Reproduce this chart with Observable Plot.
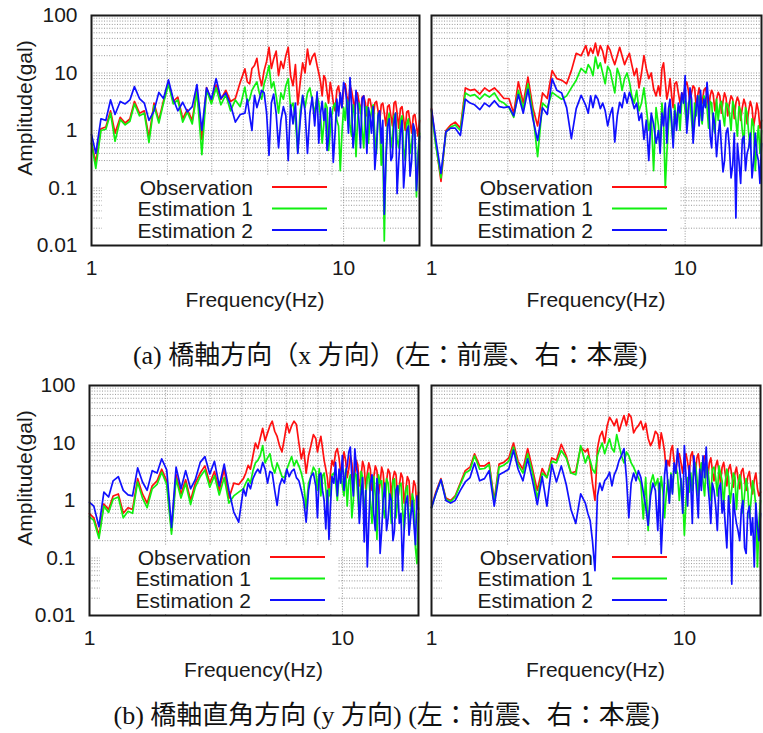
<!DOCTYPE html>
<html><head><meta charset="utf-8">
<script src="https://cdn.jsdelivr.net/npm/d3@7"></script>
<script src="https://cdn.jsdelivr.net/npm/@observablehq/plot@0.6"></script>
<style>
html,body{margin:0;padding:0;background:#fff}
body{width:763px;height:733px;position:relative;overflow:hidden;font-family:"Liberation Sans",Arial,sans-serif}
.panel{position:absolute}
.cap{position:absolute;text-align:center;font-family:"Liberation Serif","Noto Sans CJK JP",serif;font-size:26px;line-height:28px;height:28px;color:#111;white-space:nowrap}
</style></head><body>
<div id="tl" class="panel" style="left:0;top:0"></div>
<div id="tr" class="panel" style="left:425px;top:0"></div>
<div id="bl" class="panel" style="left:0;top:370px"></div>
<div id="br" class="panel" style="left:425px;top:370px"></div>
<div class="cap" style="left:0;width:780px;top:342px">(a) 橋軸方向（x 方向）(左：前震、右：本震)</div>
<div class="cap" style="left:0;width:773px;top:702px">(b) 橋軸直角方向 (y 方向) (左：前震、右：本震)</div>
<script>
// Frequency (Hz) samples shared by all panels
const freq = [1.00,1.04,1.09,1.14,1.19,1.24,1.30,1.36,1.42,1.48,
  1.55,1.62,1.69,1.77,1.85,1.93,2.02,2.11,2.20,2.30,
  2.40,2.51,2.62,2.74,2.86,2.99,3.12,3.26,3.41,3.56,
  3.72,3.89,
  4.06,4.15,4.24,4.33,4.43,4.53,4.63,4.73,4.84,4.95,5.06,5.17,5.28,5.40,5.52,5.64,
  5.77,5.90,6.03,6.16,6.30,6.44,6.58,6.73,6.88,7.03,7.19,7.35,7.51,7.68,7.85,
  7.97,8.1,8.22,8.35,8.47,8.6,8.72,8.85,8.97,9.1,9.25,9.4,9.55,9.7,9.85,10.0,
  10.15,10.3,10.45,10.6,10.75,10.9,11.05,11.2,11.35,11.5,11.67,11.85,12.02,12.2,12.37,12.55,
  12.72,12.9,13.1,13.3,13.5,13.7,13.9,14.1,14.3,14.5,14.72,14.95,15.17,15.4,15.62,15.85,
  16.07,16.3,16.55,16.8,17.05,17.3,17.55,17.8,18.07,18.35,18.62,18.9,19.17,19.45,19.72,20.0];

// (a) x direction, left: foreshock
const aLeftObs = [0.6,0.28,1.07,1.15,2.2,0.9,1.7,1.35,1.6,3.2,
  2.0,2.2,0.75,3.0,1.5,3.3,6.9,3.2,3.8,1.6,
  2.3,1.5,5.3,0.7,5.6,3.2,6.2,3.5,5.0,3.2,
  3.6,6.9,
  11.8,7,6.5,12,13.5,18,9,6,11,16,28,12,17.6,24,9,16,
  12,20,28,9,6,14,2.8,7,15,10,26,14,19,22,13.5,
  10,7, 4,9, 8,4.6, 3,6.9, 5,3.1, 2.2,5, 6,3.5, 2.5,5, 6.5,4, 2.8,6, 5,3.5, 2.2,4.5, 4.5,3.2, 2.0,3.8, 4.0,3.0, 1.8,3.5,
  3.5,2.5, 1.5,3.0, 3.2,2.2, 1.4,2.8, 3.0,2.0, 1.2,2.6, 2.8,1.8, 1.2,3.0, 3.2,2.0, 1.1,2.4, 2.6,1.6, 1.0,2.1, 2.2,1.4, 0.9,1.8, 1.9,1.2, 0.8,1.5];
const aLeftEst1 = [0.6,0.22,1.0,1.05,2.0,0.65,1.55,1.25,1.45,2.9,
  1.8,2.0,0.62,2.7,1.35,3.0,6.3,2.9,3.4,1.4,
  2.1,1.3,4.8,0.38,5.0,2.9,5.5,2.8,4.2,2.2,
  3.4,2.6,
  5.7,3.0,3.5,5.0,6.0,7.0,4.5,3.5,6.5,9,13.5,5.5,7.0,4.0,2.0,4.5,
  3.5,6,7.9,2.5,3.0,1.5,0.42,2.2,4.0,2.5,4.5,5.5,3.2,2.0,4.0,
  3.0,1.8, 0.6,1.3, 3.0,2.5, 0.45,1.0, 1.8,2.6, 3.0,1.5, 1.2,0.2, 0.9,2.5, 1.5,3.5, 3.0,1.2, 0.8,2.8, 2.0,0.35, 1.4,3.0, 2.4,1.0, 0.5,2.5, 2.6,0.6,
  1.5,2.2, 2.8,0.8, 0.4,2.0, 1.6,0.25, 0.7,0.012, 0.4,1.5, 2.0,0.5, 0.8,1.8, 2.0,0.7, 0.5,1.5, 1.8,0.5, 0.3,1.3, 1.6,0.4, 0.6,1.2, 1.0,0.07, 0.4,0.9];
const aLeftEst2 = [0.85,0.4,1.6,1.5,3.4,1.9,3.2,2.9,3.4,5.8,
  3.6,3.0,1.5,2.2,4.6,3.6,7.6,3.5,2.2,3.1,
  2.1,2.6,6.3,1.0,5.5,3.5,8.0,3.6,4.5,2.8,
  1.4,1.9,
  2.0,3.5,1.8,1.0,4.1,2.5,3.5,5.0,4.5,2.0,0.37,3.0,4.3,2.0,0.5,1.5,
  2.6,1.8,0.3,2.8,1.3,3.0,0.4,1.5,4.1,2.2,0.4,2.0,3.8,1.2,4.7,
  0.6,2.0, 3.2,1.5, 2.4,0.45, 0.8,2.5, 1.6,0.28, 0.9,3.5, 1.8,4.5, 2.5,6.9, 5.5,3.0, 0.9,8.3, 3.0,0.5, 1.0,5.0, 3.2,1.5, 0.5,3.6, 4.0,1.6, 0.4,2.5,
  1.8,0.9, 2.6,0.21, 0.5,1.8, 2.2,0.6, 1.5,0.035, 0.3,1.2, 1.6,0.3, 0.35,1.4, 2.0,0.08, 0.3,0.9, 1.5,0.1, 0.25,1.0, 1.2,0.16, 0.3,1.3, 1.0,0.09, 0.25,0.8];

// (a) x direction, right: main shock
const aRightObs = [2.4,0.6,0.13,1.0,1.25,1.4,1.1,5.5,5.0,5.2,
  4.3,5.5,4.8,5.5,4.5,3.6,3.6,2.0,7.0,3.0,
  8.5,2.5,1.2,4.5,3.6,11,8,7.5,6.5,11,
  22,20,
  30,20,27,22,33,20,30,24,15,30,25,18,14,20,28,20,
  14,18,22,14,9,12,5.5,10,20,12,8,10,5.3,4,6,
  4,12, 15,7, 3.5,5, 8,4, 2.5,6.5, 7,4.5, 3.0,4.5, 3.5,6, 7,5, 3.0,4.5, 6,5.5, 2.5,4.0, 5.5,4.0, 3.0,5.0, 5.5,4.2, 2.4,4.0,
  5.0,4.3, 2.2,3.5, 4.6,4.0, 2.0,3.2, 4.5,3.7, 1.8,3.0, 4.0,3.5, 1.6,3.0, 3.8,3.2, 1.5,2.5, 3.5,2.8, 1.3,2.2, 3.2,2.5, 1.2,1.8, 3.0,2.2, 1.1,1.5];
const aRightEst1 = [2.2,0.55,0.15,0.95,1.15,1.25,1.0,4.5,4.0,4.2,
  3.5,4.3,3.8,4.5,3.3,3.0,2.5,1.7,5.0,2.4,
  6.5,2.0,0.35,3.0,2.5,4.6,4.0,3.5,4.0,5.5,
  7.5,12,
  10,14,12,9,19,12,15,10,6.5,13,11,7,4.5,12,9,5,
  8,10,7,4,3.0,5,2.2,3.0,5.5,2.5,1.0,1.8,0.2,2.5,1.2,
  0.5,3.0, 1.5,0.1, 0.4,1.3, 2.5,1.1, 0.6,2.8, 1.4,2.5, 1.0,3.5, 4.0,2.2, 1.2,3.0, 3.5,1.5, 0.8,3.0, 1.8,3.5, 4.0,2.0, 1.3,4.0, 3.5,2.5, 1.1,3.2,
  3.0,1.2, 0.9,3.5, 1.5,2.8, 3.2,1.8, 1.2,3.0, 2.8,2.0, 1.0,3.2, 2.6,1.5, 0.8,2.6, 2.2,1.0, 0.6,2.5, 2.0,0.9, 0.5,1.6, 1.2,0.2, 0.6,1.2, 0.4,1.0];
const aRightEst2 = [2.3,0.7,0.18,0.95,1.1,1.1,0.82,3.5,3.0,2.8,
  2.3,3.0,2.6,3.3,2.6,2.5,2.6,1.8,4.2,2.0,
  5.2,1.6,0.67,2.5,1.9,7.9,5.0,4.5,2.5,0.72,
  2.4,4.1,
  2.7,2.0,4.0,2.5,4.1,3.5,2.4,3.0,2.2,1.2,1.9,2.5,0.63,1.8,3.1,2.5,
  4.5,3.0,4.6,3.5,2.4,3.0,1.5,2.0,0.7,1.5,0.3,2.0,1.3,0.6,1.0,
  0.4,2.0, 1.2,3.0, 0.6,2.4, 3.5,1.5, 0.5,2.2, 1.0,3.0, 2.0,4.5, 3.0,9.0, 0.9,2.0, 5.5,3.5, 0.6,1.4, 2.5,4.0, 1.2,5.0, 1.5,3.5, 2.5,6.9, 3.0,0.8,
  0.5,2.0, 1.2,0.35, 0.8,1.5, 0.5,0.19, 0.3,0.9, 1.1,0.5, 0.15,0.25, 0.9,0.03, 0.6,0.3, 0.12,0.7, 0.8,0.2, 0.4,0.5, 0.9,0.15, 0.3,0.9, 0.4,0.3, 0.12,0.6];

// (b) y direction, left: foreshock
const bLeftObs = [0.59,0.5,0.25,0.87,0.7,1.2,1.3,0.6,0.75,0.7,
  2.4,1.3,0.9,1.8,2.2,3.5,2.2,0.3,2.8,1.3,
  2.3,1.0,2.0,3.0,4.0,2.0,3.2,1.5,3.5,1.1,
  2.0,1.9,
  2.4,3.0,4.1,3.5,6.0,10,8,12,18,11,15,20,24,16,13,9,
  7,12,22,15,20,24,21,10,5.3,8,3.0,6,9,14,12,
  7,10, 13,8, 5,3.5, 2.5,1.2, 3.0,5.0, 4.0,6.9, 8,5.5, 3.0,4.0, 7,5.0, 2.5,3.5, 6,4.5, 2.2,3.0, 5,4.2, 1.8,2.5, 4.8,3.8, 1.6,3.0,
  4.5,3.5, 1.5,2.5, 4.0,3.3, 1.3,2.0, 3.8,3.0, 1.2,2.2, 3.5,3.0, 1.1,2.4, 3.2,2.8, 1.0,1.8, 3.0,2.5, 0.9,1.5, 2.6,2.2, 0.8,1.2, 2.2,1.8, 0.7,1.4];
const bLeftEst1 = [0.52,0.45,0.22,0.8,0.62,1.05,1.15,0.5,0.65,0.6,
  2.1,1.1,0.75,1.6,1.9,3.1,1.9,0.26,2.4,1.1,
  2.0,0.85,1.7,2.6,3.4,1.7,2.7,1.25,2.5,0.9,
  1.2,1.4,
  1.6,2.0,2.4,2.0,3.3,4.5,5.0,6.0,9.0,4.5,5.5,6.5,4.0,3.0,4.5,3.5,
  2.6,2.5,3.5,4.5,5.8,4.0,5.0,4.0,3.0,2.0,0.72,2.0,2.6,3.8,3.2,
  1.5,3.6, 1.2,2.7, 3.0,1.6, 0.7,1.6, 1.2,2.8, 3.0,2.2, 1.0,2.6, 3.2,1.8, 1.2,3.5, 0.8,2.2, 2.8,0.5, 1.0,3.0, 2.8,1.2, 0.5,3.2, 2.6,0.6, 1.2,2.5,
  3.0,1.0, 0.4,2.6, 1.2,0.21, 2.8,2.0, 2.2,0.7, 0.5,2.4, 2.0,0.9, 0.4,2.2, 2.4,0.5, 1.0,1.8, 2.0,0.7, 0.3,1.5, 1.8,0.4, 0.6,1.3, 1.0,0.15, 0.08,0.6];
const bLeftEst2 = [0.93,0.8,0.35,1.4,1.15,2.2,2.6,1.5,1.25,1.2,
  3.7,2.1,1.5,3.3,3.0,5.3,3.4,0.34,3.8,1.6,
  3.3,1.6,2.3,4.6,5.8,2.9,4.8,1.8,4.3,1.5,
  0.63,0.42,
  1.6,1.2,2.0,1.6,2.4,3.0,3.5,3.0,4.6,3.5,2.0,3.2,3.0,1.5,0.82,1.8,
  2.4,2.0,3.5,2.6,3.2,3.5,2.5,2.2,1.5,1.0,0.42,1.5,2.6,3.0,1.8,
  0.5,2.8, 3.0,1.5, 1.0,0.32, 1.5,0.21, 0.8,2.6, 2.0,4.6, 1.2,3.5, 2.0,6.1, 1.5,3.0, 4.0,6.9, 8.5,2.5, 1.2,7.9, 4.0,2.8, 0.4,1.2, 2.5,0.19, 1.5,0.07,
  0.4,2.0, 2.8,0.6, 0.3,2.4, 1.5,0.12, 0.3,1.0, 2.0,0.3, 0.5,1.3, 1.0,0.2, 0.3,1.5, 1.8,0.4, 0.6,0.06, 0.3,0.9, 1.2,0.25, 0.5,1.0, 0.4,0.17, 1.2,0.7];

// (b) y direction, right: main shock
const bRightObs = [0.77,1.4,2.4,1.1,1.0,1.2,2.0,3.3,3.8,6.5,
  4.0,4.0,4.6,1.0,4.3,4.6,5.5,10,4.8,3.5,
  8.0,3.5,1.5,3.6,2.5,5.5,5.0,9.5,6.0,3.0,
  3.2,8.5,
  7,8,4.5,2.0,1.0,8,13,16,10,20,28,24,20,26,16,22,
  30,20,32,28,15,18,20,24,17,22,12,9,11,16,14,
  8,15, 11,7, 3.5,5, 4.0,7.5, 9,5, 3.0,6, 6.5,4.5, 3.0,5.5, 6.5,4.6, 3.0,6.0, 7,4.4, 2.8,5.5, 6.5,4.0, 2.5,5.0, 6.0,3.6, 2.4,4.5,
  5.5,3.4, 2.2,4.0, 5.0,3.2, 2.0,3.8, 4.6,3.0, 1.8,3.5, 4.2,2.8, 1.7,3.0, 3.8,2.4, 1.6,3.2, 3.6,2.2, 1.5,2.6, 3.2,1.8, 1.3,2.3, 3.0,1.6, 1.2,1.4];
const bRightEst1 = [0.75,1.3,2.3,1.05,0.95,1.15,1.9,3.0,3.4,6.0,
  3.5,3.6,4.2,0.9,3.8,4.1,4.8,8.5,4.2,3.0,
  6.5,3.0,1.1,3.0,2.5,4.8,4.5,7.4,5.5,3.0,
  2.8,9.0,
  4.5,6,5.0,3.5,3.0,6,8,10,6.5,9,11.8,8,7,14,9,6,
  4.5,7,6,4.5,3.8,3.0,2.5,2.0,0.48,2.5,0.3,2.0,2.8,1.8,2.4,
  1.0,2.6, 1.5,0.5, 1.2,2.3, 1.0,3.0, 1.4,3.3, 4.0,2.8, 1.0,2.4, 1.2,0.25, 1.0,2.5, 1.4,3.0, 1.5,3.8, 4.5,2.6, 1.2,3.0, 4.5,2.2, 1.2,4.0, 3.5,2.0,
  1.0,3.5, 3.8,2.5, 1.2,4.0, 3.0,2.2, 0.8,2.0, 3.5,2.6, 0.9,1.6, 3.0,2.5, 0.7,1.8, 2.8,2.0, 0.6,1.3, 2.4,1.6, 0.5,1.0, 2.2,1.5, 0.8,0.07, 0.4,1.0];
const bRightEst2 = [0.75,1.3,2.3,1.0,0.9,1.0,1.5,2.1,2.5,4.5,
  2.2,2.4,3.3,0.8,2.8,3.1,3.5,7.5,3.5,2.2,
  5.3,2.2,0.85,2.6,0.8,4.2,2.1,4.0,1.9,0.7,
  0.4,1.3,
  0.9,0.6,0.45,0.2,0.06,1.2,2.0,1.5,2.2,2.5,3.1,1.8,2.8,3.5,5.0,6.0,
  8.0,2.5,0.5,2.0,3.0,2.2,3.3,2.5,1.4,0.8,0.37,1.2,2.0,1.5,0.3,
  2.0,0.12, 0.5,2.8, 5.0,2.0, 0.9,2.8, 1.3,4.5, 3.0,7.9, 4.0,2.0, 0.6,9.0, 2.5,0.8, 4.0,2.0, 0.4,6.0, 3.0,1.3, 0.5,3.5, 1.5,6.0, 2.5,8.5, 2.0,1.0,
  0.4,2.0, 1.5,0.8, 0.3,1.6, 2.0,0.6, 1.0,0.4, 0.15,1.2, 0.5,0.035, 1.3,0.6, 0.4,0.3, 0.2,0.7, 1.0,0.15, 0.12,0.6, 0.8,0.25, 0.5,0.07, 0.9,0.35, 0.2,0.6];

// Axis ticks, labels, grid
const xTicks = [1, 10];
const xTickLabels = ["1", "10"];
const yTicks = [0.01, 0.1, 1, 10, 100];
const yTickLabels = ["0.01", "0.1", "1", "10", "100"];
const xGrid = [2,3,4,5,6,7,8,9,10];
const yGrid = [0.02,0.03,0.04,0.05,0.06,0.07,0.08,0.09,0.1,
  0.2,0.3,0.4,0.5,0.6,0.7,0.8,0.9,1,
  2,3,4,5,6,7,8,9,10,
  20,30,40,50,60,70,80,90];
const seriesNames = ["Observation", "Estimation 1", "Estimation 2"];
const seriesColors = ["#ff1010", "#10f010", "#1010ff"];
const xLabel = "Frequency(Hz)";
const yLabel = "Amplitude(gal)";

const FONT = '"Liberation Sans", Arial, Helvetica, sans-serif';

function drawPanel(id, series, cfg) {
  const {width, height, ml, mr, mt, mb, showY} = cfg;
  const marks = [
    Plot.ruleX(xGrid, {stroke: "#8c8c8c", strokeWidth: 0.9, strokeDasharray: "1,1.6"}),
    Plot.ruleY(yGrid, {stroke: "#8c8c8c", strokeWidth: 0.9, strokeDasharray: "1,1.6"})
  ];
  series.forEach((arr, k) => {
    const n = Math.min(freq.length, arr.length);
    const rows = freq.slice(0, n).map((f, i) => ({f, a: arr[i]}));
    marks.push(Plot.line(rows, {x: "f", y: "a", stroke: seriesColors[k], strokeWidth: 1.7, strokeLinejoin: "round"}));
  });
  marks.push(Plot.frame({stroke: "#1a1a1a", strokeWidth: 2}));

  const chart = Plot.plot({
    width, height,
    marginLeft: ml, marginRight: mr, marginTop: mt, marginBottom: mb,
    style: {fontFamily: FONT, fontSize: "21px", background: "white", color: "#1a1a1a", overflow: "visible"},
    x: {type: "log", domain: [1, 20], ticks: xTicks, tickFormat: d => xTickLabels[xTicks.indexOf(d)], tickSize: 0, tickPadding: 15, label: null},
    y: {type: "log", domain: [0.01, 100], ticks: yTicks, tickFormat: d => yTickLabels[yTicks.indexOf(d)], tickSize: 0, tickPadding: 14, label: null, axis: showY ? "left" : null},
    marks
  });
  const svg = chart.tagName.toLowerCase() === "svg" ? chart : chart.querySelector("svg");
  const ns = "http://www.w3.org/2000/svg";
  const mk = (tag, attrs, text) => {
    const e = document.createElementNS(ns, tag);
    for (const k in attrs) e.setAttribute(k, attrs[k]);
    if (text != null) e.textContent = text;
    return e;
  };
  // opaque legend box (under curves, over grid)
  const box = mk("rect", {x: ml + 11, y: mt + 160, width: 238, height: 69, fill: "white"});
  const firstLine = svg.querySelector('g[aria-label="line"]');
  if (firstLine) svg.insertBefore(box, firstLine); else svg.appendChild(box);
  // legend entries
  const rowsY = [172, 193.5, 215];
  seriesNames.forEach((name, k) => {
    svg.appendChild(mk("text", {x: ml + 162, y: mt + rowsY[k], "text-anchor": "end", "dominant-baseline": "central",
      "font-family": FONT, "font-size": "21px", fill: "#1a1a1a"}, name));
    svg.appendChild(mk("line", {x1: ml + 181, x2: ml + 236, y1: mt + rowsY[k], y2: mt + rowsY[k],
      stroke: seriesColors[k], "stroke-width": 2}));
  });
  // axis titles
  const innerW = width - ml - mr;
  svg.appendChild(mk("text", {x: ml + innerW / 2, y: 299, "text-anchor": "middle", "dominant-baseline": "central",
    "font-family": FONT, "font-size": "21px", fill: "#1a1a1a"}, xLabel));
  if (showY) {
    svg.appendChild(mk("text", {transform: "translate(24,108) rotate(-90)", "text-anchor": "middle", "dominant-baseline": "central",
      "font-family": FONT, "font-size": "21px", fill: "#1a1a1a"}, yLabel));
  }
  document.getElementById(id).appendChild(chart);
}

drawPanel("tl", [aLeftObs, aLeftEst1, aLeftEst2], {width: 425, height: 330, ml: 91, mr: 6, mt: 15, mb: 85, showY: true});
drawPanel("tr", [aRightObs, aRightEst1, aRightEst2], {width: 338, height: 330, ml: 6, mr: 2, mt: 15, mb: 85, showY: false});
drawPanel("bl", [bLeftObs, bLeftEst1, bLeftEst2], {width: 425, height: 330, ml: 89, mr: 7, mt: 15, mb: 85, showY: true});
drawPanel("br", [bRightObs, bRightEst1, bRightEst2], {width: 338, height: 330, ml: 6, mr: 3, mt: 15, mb: 85, showY: false});
</script>
</body></html>
